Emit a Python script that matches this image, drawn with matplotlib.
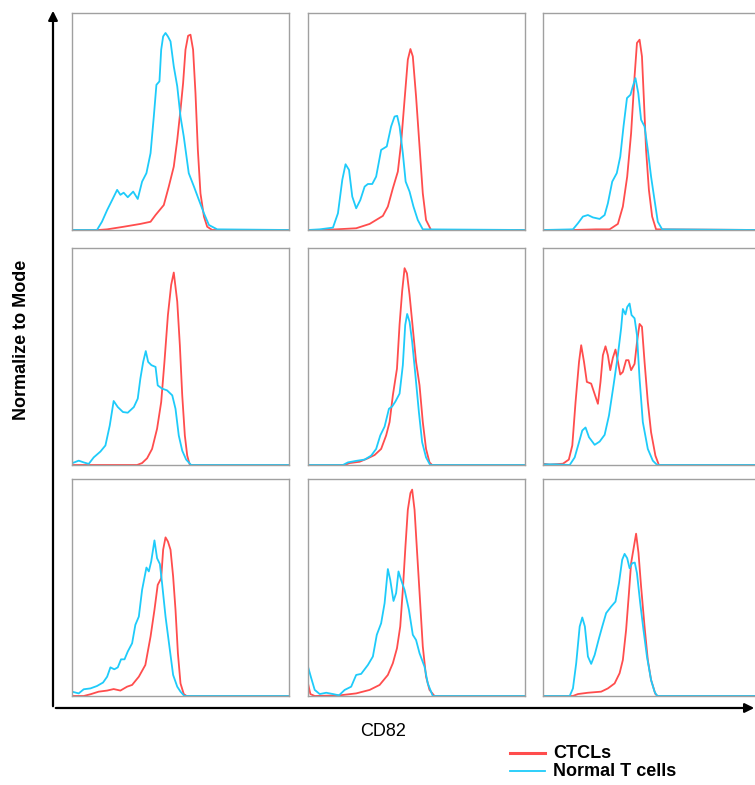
import numpy as np
import matplotlib
matplotlib.use("Agg")
import matplotlib.pyplot as plt
from matplotlib.patches import FancyArrowPatch

plt.rcParams['font.family'] = ['Liberation Sans', 'DejaVu Sans']

# x: position across the panel (0-100), y: height in % of panel height
# panel order: row by row, left to right
ctcl_x = [
    [0, 12.3, 16.2, 23.8, 31.5, 36.2, 38.5, 42.3, 44.6, 46.9, 48.5, 50.0, 51.2, 52.3, 53.5, 54.6, 55.8, 56.9, 58.0, 59.2, 60.8, 62.3, 64.6, 100],
    [0, 5.4, 13.0, 22.2, 28.4, 34.5, 36.8, 39.1, 41.4, 42.9, 44.5, 46.0, 47.2, 48.3, 49.8, 51.4, 52.9, 54.4, 56.7, 100],
    [0, 13.8, 24.5, 30.7, 34.5, 36.8, 38.8, 40.6, 42.2, 43.3, 44.5, 45.6, 46.5, 47.5, 48.8, 50.3, 52.1, 100],
    [0, 30.0, 32.3, 34.6, 36.9, 39.2, 41.1, 42.6, 44.2, 45.7, 46.9, 48.5, 49.7, 50.8, 52.0, 53.1, 54.3, 100],
    [0, 16.9, 19.2, 23.8, 27.6, 30.7, 33.7, 36.0, 37.6, 39.1, 41.0, 42.2, 43.4, 44.5, 45.6, 46.8, 48.3, 49.8, 51.4, 52.9, 54.4, 56.0, 57.2, 100],
    [0, 3.1, 9.2, 11.9, 13.5, 15.0, 16.6, 17.6, 18.9, 20.2, 22.2, 23.5, 25.3, 26.5, 27.6, 28.8, 29.9, 31.0, 32.2, 33.4, 34.5, 35.6, 36.8, 38.3, 39.4, 40.6, 42.2, 43.3, 44.5, 45.6, 46.8, 48.3, 49.8, 51.8, 53.4, 100],
    [0, 5.4, 8.5, 12.3, 16.2, 19.2, 22.3, 25.4, 27.7, 30.8, 33.8, 36.2, 38.0, 39.5, 41.1, 42.0, 43.1, 44.2, 45.4, 46.6, 47.7, 48.8, 50.0, 51.5, 52.8, 100],
    [0, 1.1, 3.1, 14.6, 22.2, 28.4, 33.0, 36.8, 39.1, 41.0, 42.5, 43.7, 44.9, 46.0, 47.2, 48.0, 49.1, 50.3, 51.7, 52.9, 54.4, 56.0, 58.3, 100],
    [0, 13.8, 16.1, 20.7, 26.8, 29.9, 33.0, 35.3, 36.8, 38.3, 39.6, 40.6, 41.9, 42.9, 44.0, 45.2, 46.8, 48.3, 49.8, 51.8, 52.9, 100],
]
ctcl_y = [
    [0, 0, 0.3, 1.5, 2.8, 3.8, 6.9, 11.5, 20.0, 29.2, 41.5, 55.4, 67.7, 83.1, 89.5, 90.0, 83.1, 63.1, 36.9, 16.9, 6.2, 1.5, 0, 0],
    [0, 0, 0.3, 0.8, 2.8, 6.5, 10.8, 19.2, 26.9, 40.0, 60.0, 78.5, 83.4, 80.0, 61.5, 38.5, 16.9, 4.6, 0, 0],
    [0, 0, 0.3, 0.3, 2.8, 10.8, 24.6, 44.6, 70.8, 86.2, 87.7, 80.0, 60.0, 36.9, 18.5, 6.2, 0.3, 0],
    [0, 0, 0.9, 3.1, 7.4, 16.7, 29.0, 47.5, 69.1, 83.0, 88.7, 75.3, 55.2, 32.1, 13.6, 4.3, 0, 0],
    [0, 0, 0.9, 1.5, 3.1, 4.6, 7.4, 13.6, 19.8, 32.1, 44.4, 64.8, 80.2, 90.7, 88.3, 78.4, 63.0, 47.5, 36.7, 19.8, 7.4, 1.2, 0, 0],
    [0.6, 0.2, 0.6, 2.5, 9.0, 29.0, 47.5, 55.2, 47.5, 38.3, 37.5, 33.6, 28.2, 38.3, 50.6, 54.7, 50.6, 43.7, 49.4, 53.2, 47.8, 41.7, 42.9, 48.3, 48.3, 43.7, 46.6, 56.5, 65.0, 63.7, 47.5, 29.0, 15.1, 4.3, 0, 0],
    [0, 0, 0.8, 2.0, 2.5, 3.2, 2.5, 4.3, 5.1, 8.9, 14.3, 27.4, 39.7, 51.2, 54.3, 67.4, 73.1, 71.2, 67.4, 55.1, 39.7, 19.7, 5.8, 0.9, 0, 0],
    [5.8, 0.9, 0, 0.3, 1.2, 2.8, 5.1, 9.7, 15.1, 22.0, 32.0, 48.9, 68.9, 85.8, 93.5, 95.1, 85.8, 65.8, 42.8, 22.8, 8.9, 2.8, 0, 0],
    [0, 0, 0.9, 1.5, 2.0, 3.5, 5.8, 10.5, 16.6, 30.5, 47.4, 61.2, 68.9, 74.8, 66.0, 50.5, 32.0, 16.6, 7.4, 0.9, 0, 0],
]
normal_x = [
    [0, 11.5, 13.8, 16.2, 18.5, 20.8, 22.3, 23.8, 25.7, 28.2, 30.3, 32.3, 34.3, 36.2, 37.7, 38.9, 40.3, 41.1, 42.0, 43.1, 44.2, 45.4, 46.9, 48.5, 50.0, 51.5, 53.8, 56.2, 58.5, 60.8, 63.1, 66.9, 100],
    [0, 5.4, 11.5, 13.8, 15.8, 17.3, 18.9, 20.4, 22.2, 24.1, 26.1, 27.6, 29.6, 31.4, 33.7, 36.3, 38.3, 39.9, 41.1, 42.2, 43.7, 45.0, 46.8, 48.6, 50.6, 52.9, 100],
    [0, 13.8, 16.1, 18.4, 20.7, 23.0, 26.1, 28.4, 29.9, 31.9, 34.0, 35.6, 37.1, 38.7, 40.3, 41.4, 42.6, 43.9, 45.2, 46.8, 48.3, 49.8, 51.4, 52.9, 54.9, 100],
    [0, 3.1, 5.4, 7.7, 10.0, 13.1, 15.4, 17.4, 19.2, 21.1, 23.5, 25.7, 28.5, 30.3, 31.5, 32.8, 34.0, 35.1, 36.6, 38.5, 39.5, 41.5, 43.8, 46.2, 47.7, 49.2, 50.8, 52.6, 54.9, 100],
    [0, 16.1, 18.4, 22.2, 26.1, 29.1, 31.4, 33.3, 35.3, 37.3, 38.8, 40.3, 42.2, 43.7, 44.8, 45.7, 46.8, 48.0, 49.5, 51.1, 52.6, 54.4, 56.3, 100],
    [0, 6.1, 12.3, 14.6, 16.6, 18.1, 19.6, 21.2, 23.8, 26.1, 28.4, 30.4, 32.5, 34.5, 36.0, 36.8, 38.0, 38.8, 39.9, 40.8, 42.2, 43.3, 44.5, 46.0, 48.3, 50.6, 52.6, 100],
    [0, 3.1, 5.4, 8.5, 11.5, 14.3, 16.2, 17.7, 19.5, 21.1, 22.6, 24.2, 25.7, 27.7, 29.2, 30.8, 32.3, 34.3, 35.4, 36.5, 38.0, 39.2, 40.5, 41.5, 43.1, 45.1, 46.6, 48.5, 50.0, 51.8, 100],
    [0, 1.5, 3.1, 5.4, 8.4, 11.5, 14.3, 16.9, 19.9, 22.2, 24.5, 27.6, 29.9, 31.7, 33.7, 35.3, 36.8, 37.9, 39.4, 40.6, 41.7, 42.9, 44.5, 46.5, 48.3, 49.8, 51.4, 53.7, 55.2, 57.5, 100],
    [0, 12.3, 13.8, 15.3, 16.9, 18.1, 19.3, 20.7, 22.2, 23.8, 25.8, 27.3, 29.1, 31.4, 33.4, 35.0, 36.5, 37.6, 38.8, 39.9, 41.1, 42.3, 43.3, 44.8, 46.3, 47.9, 49.8, 51.4, 52.6, 100],
]
normal_y = [
    [0, 0, 3.8, 9.2, 13.8, 18.5, 16.2, 17.2, 15.1, 17.7, 14.3, 22.3, 26.2, 35.4, 52.3, 66.9, 68.5, 83.1, 89.2, 90.8, 89.2, 86.9, 75.4, 66.2, 52.3, 43.1, 26.2, 20.0, 13.8, 7.7, 2.3, 0.3, 0],
    [0, 0.3, 1.1, 7.7, 23.1, 30.3, 27.7, 15.4, 10.0, 13.8, 20.0, 21.2, 21.2, 24.6, 36.9, 38.5, 47.7, 52.3, 52.6, 47.7, 35.4, 22.3, 17.7, 10.8, 4.6, 0.3, 0],
    [0, 0.3, 3.1, 6.2, 6.9, 5.8, 5.1, 6.9, 12.3, 22.3, 26.2, 33.8, 47.7, 60.8, 62.3, 66.2, 70.0, 63.1, 50.8, 47.7, 36.9, 24.6, 13.8, 3.8, 0.3, 0],
    [0.8, 2.0, 1.2, 0.5, 3.5, 6.2, 9.0, 18.2, 29.5, 26.7, 24.4, 24.1, 26.7, 30.6, 39.8, 47.5, 52.5, 47.5, 46.0, 45.2, 36.7, 35.2, 34.4, 32.1, 25.9, 13.6, 6.6, 2.5, 0, 0],
    [0, 0, 1.2, 1.9, 2.5, 4.3, 7.4, 13.6, 17.7, 25.9, 27.0, 29.3, 32.9, 46.0, 64.5, 69.6, 66.0, 56.8, 41.4, 24.4, 10.5, 3.5, 0, 0],
    [0.3, 0.3, 0, 3.5, 10.5, 15.9, 17.3, 12.8, 9.3, 10.8, 13.9, 22.8, 36.7, 50.6, 63.0, 71.9, 69.4, 72.8, 74.4, 69.1, 67.6, 59.9, 39.8, 19.8, 7.4, 2.0, 0, 0],
    [2.0, 1.2, 3.1, 3.5, 4.6, 6.2, 8.9, 13.2, 12.3, 13.2, 16.9, 16.9, 20.5, 24.3, 32.8, 36.6, 48.9, 59.2, 57.4, 62.0, 71.7, 63.5, 60.8, 52.0, 36.6, 21.2, 9.7, 4.3, 2.0, 0, 0],
    [13.5, 8.2, 2.8, 0.9, 1.5, 0.9, 0.3, 2.8, 4.3, 9.7, 10.2, 14.3, 18.2, 28.2, 33.5, 42.8, 58.5, 53.5, 43.8, 47.4, 57.4, 53.5, 48.9, 39.7, 28.2, 25.8, 19.7, 13.5, 5.8, 0, 0],
    [0, 0, 3.5, 15.1, 32.0, 36.2, 32.0, 18.2, 14.8, 18.9, 26.6, 32.0, 38.2, 41.2, 43.5, 52.0, 62.8, 65.5, 63.5, 58.9, 61.2, 61.5, 56.6, 42.8, 30.5, 18.2, 7.4, 2.0, 0, 0],
]
series_labels = ["CTCLs", "Normal T cells"]

red = "#ff4d4d"
cyan = "#1ecbfa"

W, H = 755, 785
fig = plt.figure(figsize=(W / 100, H / 100), dpi=100)

col_left = [72, 308, 543]
row_top = [13, 248, 479]
pw, ph = 217, 217

for i in range(9):
    r, c = divmod(i, 3)
    ax = fig.add_axes([col_left[c] / W, 1 - (row_top[r] + ph) / H, pw / W, ph / H])
    ax.plot(ctcl_x[i], ctcl_y[i], color=red, lw=1.3, solid_joinstyle="round")
    ax.plot(normal_x[i], normal_y[i], color=cyan, lw=1.3, solid_joinstyle="round")
    ax.set_xlim(0, 100)
    ax.set_ylim(0, 100)
    ax.set_xticks([])
    ax.set_yticks([])
    for s in ax.spines.values():
        s.set_color("#a0a0a0")
        s.set_linewidth(1.0)

# axis arrows
def fpt(x, y):
    return (x / W, 1 - y / H)

fig.add_artist(FancyArrowPatch(fpt(53, 709), fpt(53, 8), transform=fig.transFigure,
                               arrowstyle="-|>,head_length=5,head_width=2.5",
                               mutation_scale=1.1, color="black", lw=1.6))
fig.add_artist(FancyArrowPatch(fpt(53, 708), fpt(757, 708), transform=fig.transFigure,
                               arrowstyle="-|>,head_length=5,head_width=2.5",
                               mutation_scale=1.1, color="black", lw=1.6))

fig.text(22 / W, 1 - 340 / H, "Normalize to Mode", rotation=90, ha="center", va="center",
         fontsize=13, fontweight="bold")
fig.text(383 / W, 1 - 731 / H, "CD82", ha="center", va="center", fontsize=13)

# legend
leg_y = [753, 771]
for lab, col, yy in zip(series_labels, [red, cyan], leg_y):
    fig.add_artist(plt.Line2D([510 / W, 545 / W], [1 - yy / H, 1 - yy / H],
                              color=col, lw=2.2 if col == red else 1.3))
    fig.text(553 / W, 1 - yy / H, lab, ha="left", va="center", fontsize=13, fontweight="bold")

fig.savefig("out.png", dpi=100)
